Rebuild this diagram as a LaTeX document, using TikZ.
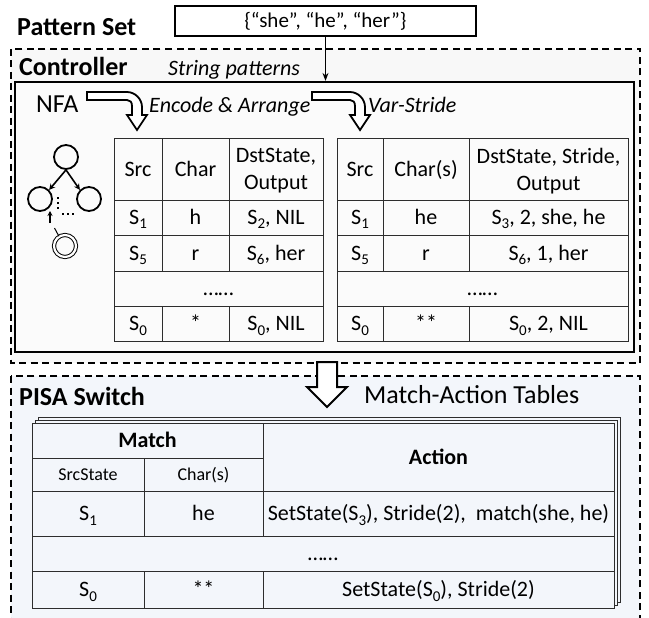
\documentclass[tikz,border=0pt]{standalone}
\usepackage{fontspec}
\setmainfont{Carlito}
\usetikzlibrary{arrows.meta}
\definecolor{ctrlbg}{RGB}{248,248,248}
\definecolor{innerbg}{RGB}{251,251,251}
\definecolor{pisabg}{RGB}{243,246,251}
\definecolor{tcol}{RGB}{45,45,45}
\newcommand\sbs[1]{\raisebox{-4.5pt}{\fontsize{15pt}{15pt}\selectfont #1}}
\tikzset{
  dashbox/.style={draw=black, line width=1.4pt, dash pattern=on 7pt off 4.5pt},
  tline/.style={draw=tcol, line width=1pt},
  cell/.style={font=\fontsize{22pt}{27pt}\selectfont, text height=14pt, text depth=0pt, inner sep=0pt},
  hcell/.style={font=\fontsize{22pt}{27pt}\selectfont, inner sep=0pt, align=center},
  scell/.style={font=\fontsize{18pt}{22pt}\selectfont, text height=11.5pt, text depth=0pt, inner sep=0pt},
  ttl/.style={font=\bfseries\fontsize{26pt}{30pt}\selectfont, anchor=base west, inner sep=0pt},
  itl/.style={font=\itshape\fontsize{22pt}{26pt}\selectfont, anchor=base west, inner sep=0pt},
  st/.style={circle, draw, line width=1.8pt, minimum size=24pt, inner sep=0pt},
  hollow/.style={draw=black, line width=1.8pt, fill=white, line join=miter},
}
\newcommand\bendarr[2]{%
  \draw[hollow] (#1,92) -- ({#2-10},92) .. controls ({#2-2},92) and ({#2+5},99) .. ({#2+5},107)
    -- ({#2+5},115) -- ({#2+10},115) -- (#2,130) -- ({#2-10},115) -- ({#2-5},115) -- ({#2-5},106)
    .. controls ({#2-5},102) and ({#2-7},100) .. ({#2-10},100) -- (#1,100) -- cycle;}
\begin{document}
\begin{tikzpicture}[x=1pt,y=-1pt]
\useasboundingbox (0,0) rectangle (649,618);

% ---------- Pattern set ----------
\node[ttl] (pslabel) at (17,36) {Pattern Set};
\node[draw, line width=1.3pt, minimum width=301pt, minimum height=30pt, inner sep=0pt,
      font=\fontsize{21pt}{25pt}\selectfont] (pat) at (325.5,21) {\{“she”, “he”, “her”\}};

% ---------- Controller ----------
\draw[dashbox, fill=ctrlbg] (11,49) rectangle (640,363);
\node[draw, line width=2.2pt, fill=innerbg, minimum width=619pt, minimum height=270pt, inner sep=0pt]
   (inner) at (324.5,217) {};
\node[ttl] (ctrl) at (19,76) {Controller};
\node[itl] (strpat) at (168,76) {String patterns};
\draw[line width=1.3pt, -{Stealth[length=8pt,width=6pt]}] (pat.south) -- (pat.south |- inner.north);

\node[anchor=base west, inner sep=0pt, font=\fontsize{26pt}{30pt}\selectfont] (nfa) at (36,113) {NFA};
\bendarr{87}{137}
\node[itl] (enc) at (149,113) {Encode \& Arrange};
\bendarr{312}{360}
\node[itl] (var) at (368,113) {Var-Stride};

% NFA graph
\node[st] (q0) at (66,157) {};
\node[st] (q1) at (40,199) {};
\node[st] (q2) at (89,199) {};
\node[circle, draw, double, double distance=2.2pt, line width=1pt, minimum size=22pt, inner sep=0pt] (q3) at (65,246) {};
\draw[line width=1.6pt, -{Stealth[length=6pt,width=6pt]}] (q0.south) -- (q1.north east);
\draw[line width=1.6pt, -{Stealth[length=6pt,width=6pt]}] (q0.south) -- (q2.north west);
\coordinate (tailA) at (50,223);
\coordinate (headA) at (50,211);
\draw[line width=1.4pt, -{Stealth[length=5pt,width=5pt]}] (tailA) -- (headA);
\coordinate (tailB) at (54.5,228);
\draw[line width=1pt] (q3.122) -- (tailB);
\foreach \yy in {197,202,207} \fill (57,\yy) rectangle (59.2,\yy+2.2);
\foreach \xx in {62,67,72} \fill (\xx,213) rectangle (\xx+2.2,215.2);

% Left table
\draw[tline] (114,139) rectangle (323,341);
\foreach \yy in {200,235,271,306} \draw[tline] (114,\yy) -- (323,\yy);
\foreach \xx in {162,229} {\draw[tline] (\xx,139) -- (\xx,271); \draw[tline] (\xx,306) -- (\xx,341);}
\node[cell] (la1) at (138,169.5) {Src};
\node[cell] (la2) at (195.5,169.5) {Char};
\node[hcell] (la3) at (276,171) {DstState,\\Output};
\node[cell] (lb1) at (138,217.5) {S\sbs{1}};
\node[cell] (lb2) at (195.5,217.5) {h};
\node[cell] (lb3) at (276,217.5) {S\sbs{2}, NIL};
\node[cell] (lc1) at (138,253) {S\sbs{5}};
\node[cell] (lc2) at (195.5,253) {r};
\node[cell] (lc3) at (276,253) {S\sbs{6}, her};
\node[cell] (ld) at (218.5,288.5) {……};
\node[cell] (le1) at (138,323.5) {S\sbs{0}};
\node[cell] (le2) at (195.5,323.5) {*};
\node[cell] (le3) at (276,323.5) {S\sbs{0}, NIL};

% Right table
\draw[tline] (337,139) rectangle (628,341);
\foreach \yy in {200,235,271,306} \draw[tline] (337,\yy) -- (628,\yy);
\foreach \xx in {383,469} {\draw[tline] (\xx,139) -- (\xx,271); \draw[tline] (\xx,306) -- (\xx,341);}
\node[cell] (ra1) at (360,169.5) {Src};
\node[cell] (ra2) at (426,169.5) {Char(s)};
\node[hcell] (ra3) at (548.5,171) {DstState, Stride,\\Output};
\node[cell] (rb1) at (360,217.5) {S\sbs{1}};
\node[cell] (rb2) at (426,217.5) {he};
\node[cell] (rb3) at (548.5,217.5) {S\sbs{3}, 2, she, he};
\node[cell] (rc1) at (360,253) {S\sbs{5}};
\node[cell] (rc2) at (426,253) {r};
\node[cell] (rc3) at (548.5,253) {S\sbs{6}, 1, her};
\node[cell] (rd) at (482.5,288.5) {……};
\node[cell] (re1) at (360,323.5) {S\sbs{0}};
\node[cell] (re2) at (426,323.5) {**};
\node[cell] (re3) at (548.5,323.5) {S\sbs{0}, 2, NIL};

% ---------- PISA switch ----------
\draw[dashbox, fill=pisabg] (11,376) rectangle (640,650);
\draw[hollow, line width=2pt] (317,362) -- (337,362) -- (337,387) -- (347,387) -- (327,407)
   -- (307,387) -- (317,387) -- cycle;
\node[ttl] (pisa) at (19,405) {PISA Switch};
\node[anchor=base west, inner sep=0pt, font=\fontsize{26pt}{30pt}\selectfont] (mat) at (364,403) {Match-Action Tables};

\draw[tline, fill=pisabg] (38,417) rectangle (620,602);
\draw[tline, fill=pisabg] (35,420) rectangle (617,605);
\draw[tline, fill=pisabg] (32,423) rectangle (614,608);
\draw[tline] (32,458) -- (263,458);
\foreach \yy in {491,536,571} \draw[tline] (32,\yy) -- (614,\yy);
\draw[tline] (263,423) -- (263,536);
\draw[tline] (263,571) -- (263,608);
\draw[tline] (144,458) -- (144,536);
\draw[tline] (144,571) -- (144,608);
\node[cell, font=\bfseries\fontsize{22pt}{27pt}\selectfont] (pm) at (147.5,440.5) {Match};
\node[cell, font=\bfseries\fontsize{22pt}{27pt}\selectfont] (pa) at (438.5,457) {Action};
\node[scell] (ps1) at (88,474.5) {SrcState};
\node[scell] (ps2) at (203.5,474.5) {Char(s)};
\node[cell] (pb1) at (88,513.5) {S\sbs{1}};
\node[cell] (pb2) at (203.5,513.5) {he};
\node[cell] (pb3) at (438.5,513.5) {SetState(S\sbs{3}), Stride(2),\ \ match(she, he)};
\node[cell] (pd) at (323,553.5) {……};
\node[cell] (pe1) at (88,589.5) {S\sbs{0}};
\node[cell] (pe2) at (203.5,589.5) {**};
\node[cell] (pe3) at (438.5,589.5) {SetState(S\sbs{0}), Stride(2)};
\end{tikzpicture}
\end{document}
